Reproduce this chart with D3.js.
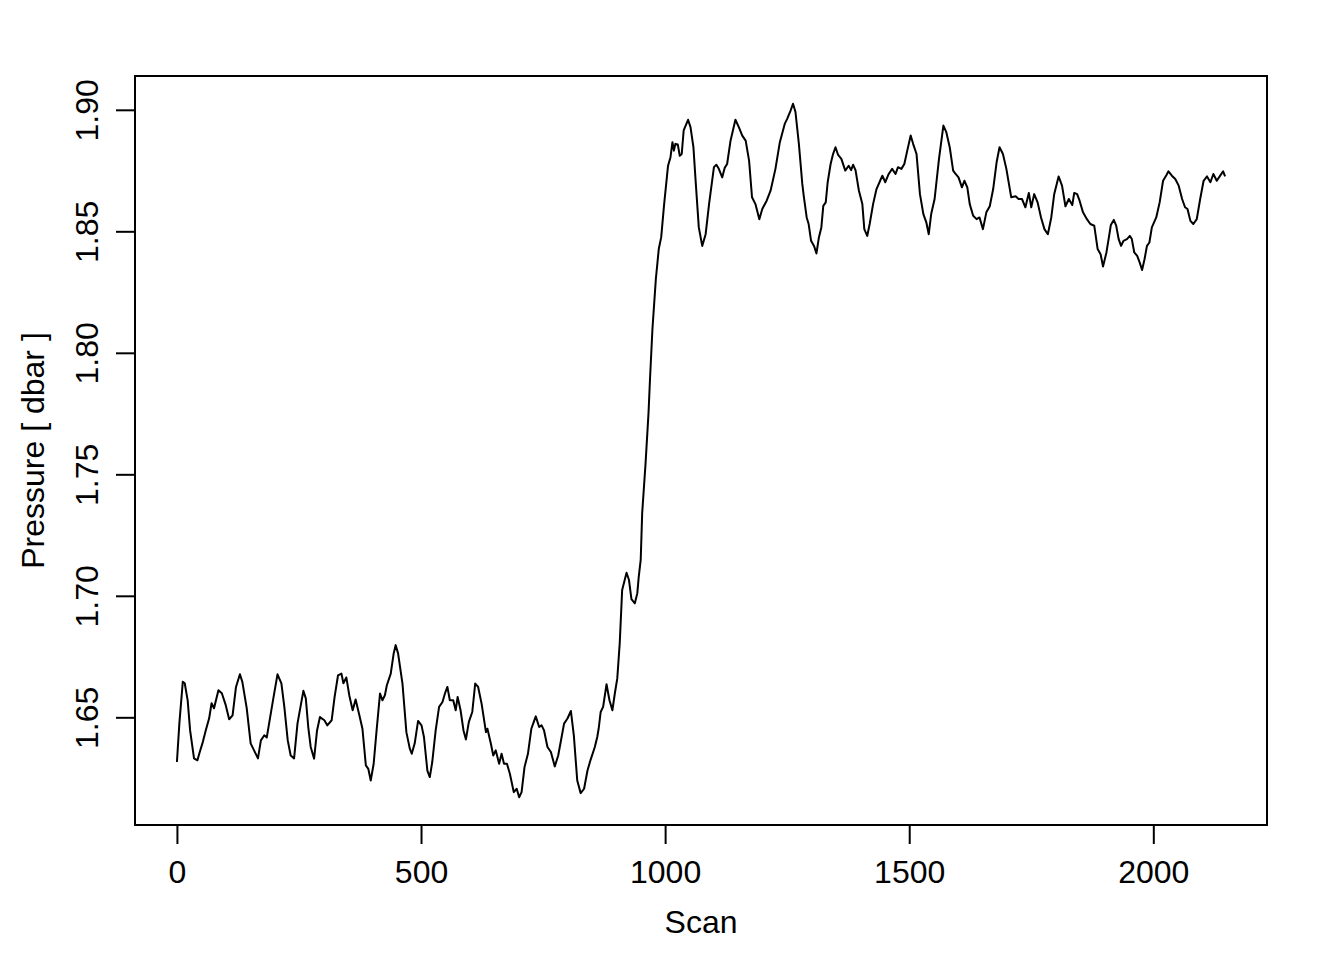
<!DOCTYPE html>
<html>
<head>
<meta charset="utf-8">
<title>Pressure by scan</title>
<script src="https://cdn.jsdelivr.net/npm/d3@7"></script>
<style>
    html, body { margin: 0; padding: 0; background: #ffffff; }
    svg { display: block; }
</style>
</head>
<body>
<div id="chart"></div>
<script>
// Scan index of each sample
const scans = [
    0, 5, 12, 16, 22, 27, 35, 42, 46, 53, 59, 66, 71, 76, 85, 92, 100, 107, 114, 121,
    129, 134, 143, 151, 158, 166, 172, 179, 184, 191, 198, 206, 214, 220, 227, 233, 240, 247, 259, 264,
    269, 274, 281, 287, 293, 302, 308, 317, 323, 330, 337, 341, 347, 353, 360, 366, 373, 380, 387, 392,
    397, 403, 409, 416, 421, 426, 430, 438, 444, 448, 453, 462, 470, 477, 481, 487, 494, 501, 506, 513,
    518, 523, 530, 537, 544, 549, 554, 559, 566, 571, 575, 581, 587, 592, 598, 605, 611, 617, 624, 633,
    636, 643, 648, 653, 660, 665, 670, 676, 682, 690, 696, 701, 706, 712, 719, 726, 731, 735, 742, 747,
    752, 759, 766, 774, 781, 788, 793, 800, 807, 813, 820, 827, 834, 841, 847, 856, 861, 864, 868, 873,
    880, 886, 892, 897, 902, 907, 912, 921, 926, 931, 938, 943, 946, 950, 953, 960, 966, 969, 974, 981,
    987, 992, 998, 1006, 1011, 1015, 1018, 1021, 1026, 1030, 1034, 1038, 1047, 1052, 1058, 1062, 1069, 1076, 1083, 1090,
    1100, 1105, 1110, 1117, 1122, 1127, 1134, 1144, 1151, 1158, 1165, 1172, 1178, 1185, 1193, 1199, 1208, 1216, 1226, 1235,
    1245, 1250, 1257, 1262, 1267, 1274, 1281, 1284, 1290, 1294, 1299, 1305, 1310, 1315, 1320, 1324, 1329, 1333, 1339, 1344,
    1349, 1354, 1361, 1369, 1376, 1381, 1385, 1390, 1397, 1404, 1408, 1414, 1419, 1426, 1433, 1440, 1445, 1451, 1458, 1465,
    1472, 1477, 1484, 1490, 1496, 1503, 1508, 1515, 1522, 1529, 1535, 1540, 1545, 1552, 1561, 1570, 1576, 1583, 1590, 1595,
    1601, 1608, 1613, 1619, 1624, 1631, 1638, 1644, 1651, 1658, 1665, 1672, 1679, 1685, 1692, 1699, 1709, 1718, 1724, 1731,
    1738, 1745, 1750, 1756, 1763, 1770, 1777, 1784, 1791, 1797, 1806, 1813, 1820, 1827, 1834, 1838, 1844, 1849, 1856, 1864,
    1871, 1879, 1886, 1892, 1897, 1904, 1909, 1913, 1919, 1924, 1929, 1934, 1939, 1946, 1952, 1956, 1961, 1967, 1972, 1977,
    1982, 1987, 1992, 1997, 2006, 2013, 2020, 2027, 2031, 2038, 2045, 2052, 2059, 2065, 2070, 2076, 2082, 2089, 2096, 2103,
    2110, 2117, 2123, 2130, 2137, 2143, 2147
];

// Pressure in dbar at each scan above
const pressures = [
    1.6316, 1.6475, 1.6646, 1.6640, 1.6570, 1.6446, 1.6331, 1.6323, 1.6352, 1.6398, 1.6446, 1.6496, 1.6558, 1.6537, 1.6611, 1.6599, 1.6550, 1.6492, 1.6508, 1.6625,
    1.6677, 1.6646, 1.6537, 1.6393, 1.6364, 1.6331, 1.6405, 1.6426, 1.6417, 1.6501, 1.6584, 1.6677, 1.6640, 1.6543, 1.6405, 1.6343, 1.6331, 1.6475, 1.6609, 1.6578,
    1.6460, 1.6378, 1.6330, 1.6446, 1.6501, 1.6488, 1.6467, 1.6488, 1.6584, 1.6673, 1.6680, 1.6640, 1.6664, 1.6591, 1.6529, 1.6573, 1.6515, 1.6453, 1.6302, 1.6288,
    1.6240, 1.6309, 1.6446, 1.6598, 1.6570, 1.6591, 1.6632, 1.6680, 1.6763, 1.6797, 1.6763, 1.6639, 1.6439, 1.6371, 1.6350, 1.6392, 1.6485, 1.6467, 1.6419, 1.6281,
    1.6254, 1.6316, 1.6446, 1.6543, 1.6563, 1.6598, 1.6625, 1.6570, 1.6570, 1.6529, 1.6584, 1.6529, 1.6446, 1.6409, 1.6481, 1.6522, 1.6639, 1.6625, 1.6557, 1.6439,
    1.6453, 1.6392, 1.6343, 1.6364, 1.6309, 1.6350, 1.6309, 1.6309, 1.6268, 1.6192, 1.6206, 1.6171, 1.6192, 1.6295, 1.6350, 1.6453, 1.6481, 1.6504, 1.6460, 1.6467,
    1.6446, 1.6378, 1.6357, 1.6298, 1.6343, 1.6419, 1.6474, 1.6495, 1.6526, 1.6426, 1.6240, 1.6188, 1.6206, 1.6281, 1.6323, 1.6378, 1.6419, 1.6455, 1.6522, 1.6543,
    1.6636, 1.6570, 1.6529, 1.6598, 1.6660, 1.6804, 1.7024, 1.7095, 1.7065, 1.6986, 1.6969, 1.7010, 1.7079, 1.7148, 1.7340, 1.7547, 1.7753, 1.7890, 1.8097, 1.8303,
    1.8427, 1.8476, 1.8612, 1.8770, 1.8805, 1.8867, 1.8832, 1.8860, 1.8857, 1.8811, 1.8818, 1.8915, 1.8959, 1.8929, 1.8846, 1.8722, 1.8516, 1.8440, 1.8488, 1.8612,
    1.8764, 1.8774, 1.8757, 1.8722, 1.8761, 1.8777, 1.8873, 1.8959, 1.8929, 1.8894, 1.8873, 1.8791, 1.8640, 1.8612, 1.8550, 1.8592, 1.8626, 1.8667, 1.8757, 1.8867,
    1.8942, 1.8963, 1.8997, 1.9025, 1.8991, 1.8860, 1.8695, 1.8645, 1.8557, 1.8530, 1.8461, 1.8440, 1.8409, 1.8475, 1.8516, 1.8605, 1.8619, 1.8702, 1.8777, 1.8818,
    1.8846, 1.8816, 1.8798, 1.8750, 1.8770, 1.8752, 1.8774, 1.8752, 1.8667, 1.8612, 1.8509, 1.8481, 1.8530, 1.8612, 1.8674, 1.8706, 1.8729, 1.8702, 1.8736, 1.8757,
    1.8736, 1.8764, 1.8757, 1.8777, 1.8832, 1.8894, 1.8860, 1.8818, 1.8653, 1.8571, 1.8537, 1.8488, 1.8571, 1.8633, 1.8798, 1.8935, 1.8908, 1.8846, 1.8750, 1.8736,
    1.8722, 1.8681, 1.8708, 1.8681, 1.8612, 1.8564, 1.8550, 1.8557, 1.8509, 1.8578, 1.8603, 1.8674, 1.8784, 1.8846, 1.8818, 1.8757, 1.8640, 1.8644, 1.8633, 1.8633,
    1.8599, 1.8658, 1.8599, 1.8653, 1.8619, 1.8557, 1.8509, 1.8488, 1.8557, 1.8653, 1.8726, 1.8688, 1.8603, 1.8633, 1.8608, 1.8658, 1.8653, 1.8626, 1.8578, 1.8550,
    1.8530, 1.8523, 1.8427, 1.8406, 1.8355, 1.8413, 1.8475, 1.8526, 1.8547, 1.8523, 1.8468, 1.8440, 1.8461, 1.8468, 1.8481, 1.8468, 1.8413, 1.8399, 1.8372, 1.8341,
    1.8385, 1.8440, 1.8454, 1.8516, 1.8557, 1.8619, 1.8708, 1.8732, 1.8747, 1.8729, 1.8715, 1.8688, 1.8633, 1.8599, 1.8592, 1.8543, 1.8530, 1.8550, 1.8633, 1.8708,
    1.8726, 1.8702, 1.8736, 1.8708, 1.8729, 1.8747, 1.8726
];

// Axis ticks and labels
const xTicks = [0, 500, 1000, 1500, 2000];
const yTicks = [1.65, 1.70, 1.75, 1.80, 1.85, 1.90];
const xTitle = 'Scan';
const yTitle = 'Pressure [ dbar ]';

const FONT = '"Liberation Sans", Arial, Helvetica, sans-serif';

function renderChart() {
    const width = 1344;
    const height = 960;
    // plot region (R style box)
    const box = {left: 135, right: 1267, top: 76, bottom: 825};
    const tickLen = 19;

    const svg = d3.select('#chart')
        .append('svg')
        .attr('width', width)
        .attr('height', height);

    // R pads the data range by 4% on each side
    const xExt = d3.extent(scans);
    const xPad = (xExt[1] - xExt[0]) * 0.04;
    const xScale = d3.scaleLinear()
        .domain([xExt[0] - xPad, xExt[1] + xPad])
        .range([box.left, box.right]);

    const yExt = d3.extent(pressures);
    const yPad = (yExt[1] - yExt[0]) * 0.04;
    const yScale = d3.scaleLinear()
        .domain([yExt[0] - yPad, yExt[1] + yPad])
        .range([box.bottom, box.top]);

    // x axis
    const xAxis = d3.axisBottom(xScale)
        .tickValues(xTicks)
        .tickSize(tickLen)
        .tickPadding(16)
        .tickFormat(d3.format('d'));

    const gx = svg.append('g')
        .attr('transform', `translate(0,${box.bottom})`)
        .call(xAxis);
    gx.select('.domain')
        .attr('d', `M${xScale(xTicks[0])},0H${xScale(xTicks[xTicks.length - 1])}`)
        .style('stroke', '#000')
        .style('stroke-width', 2);
    gx.selectAll('.tick line').style('stroke', '#000').style('stroke-width', 2);
    gx.selectAll('text')
        .style('fill', '#000')
        .style('font-size', '32px')
        .style('font-family', FONT);

    // y axis, labels turned parallel to the axis
    const yAxis = d3.axisLeft(yScale)
        .tickValues(yTicks)
        .tickSize(tickLen)
        .tickFormat(d3.format('.2f'));

    const gy = svg.append('g')
        .attr('transform', `translate(${box.left},0)`)
        .call(yAxis);
    gy.select('.domain')
        .attr('d', `M0,${yScale(yTicks[0])}V${yScale(yTicks[yTicks.length - 1])}`)
        .style('stroke', '#000')
        .style('stroke-width', 2);
    gy.selectAll('.tick line').style('stroke', '#000').style('stroke-width', 2);
    gy.selectAll('text')
        .attr('x', null)
        .attr('dy', null)
        .attr('transform', 'translate(-37,0) rotate(-90)')
        .attr('text-anchor', 'middle')
        .style('fill', '#000')
        .style('font-size', '32px')
        .style('font-family', FONT);

    // frame round the plot region
    svg.append('rect')
        .attr('x', box.left)
        .attr('y', box.top)
        .attr('width', box.right - box.left)
        .attr('height', box.bottom - box.top)
        .attr('fill', 'none')
        .attr('stroke', '#000')
        .attr('stroke-width', 2);

    // the pressure trace
    const line = d3.line()
        .x((d, i) => xScale(scans[i]))
        .y(d => yScale(d));

    svg.append('path')
        .datum(pressures)
        .attr('d', line)
        .attr('fill', 'none')
        .attr('stroke', '#000')
        .attr('stroke-width', 2)
        .attr('stroke-linejoin', 'round');

    // axis titles
    svg.append('text')
        .attr('x', (box.left + box.right) / 2)
        .attr('y', 933)
        .attr('text-anchor', 'middle')
        .style('fill', '#000')
        .style('font-size', '32px')
        .style('font-family', FONT)
        .text(xTitle);

    svg.append('text')
        .attr('transform', `translate(44,${(box.top + box.bottom) / 2}) rotate(-90)`)
        .attr('text-anchor', 'middle')
        .style('fill', '#000')
        .style('font-size', '32px')
        .style('font-family', FONT)
        .text(yTitle);
}

renderChart();
</script>
</body>
</html>
